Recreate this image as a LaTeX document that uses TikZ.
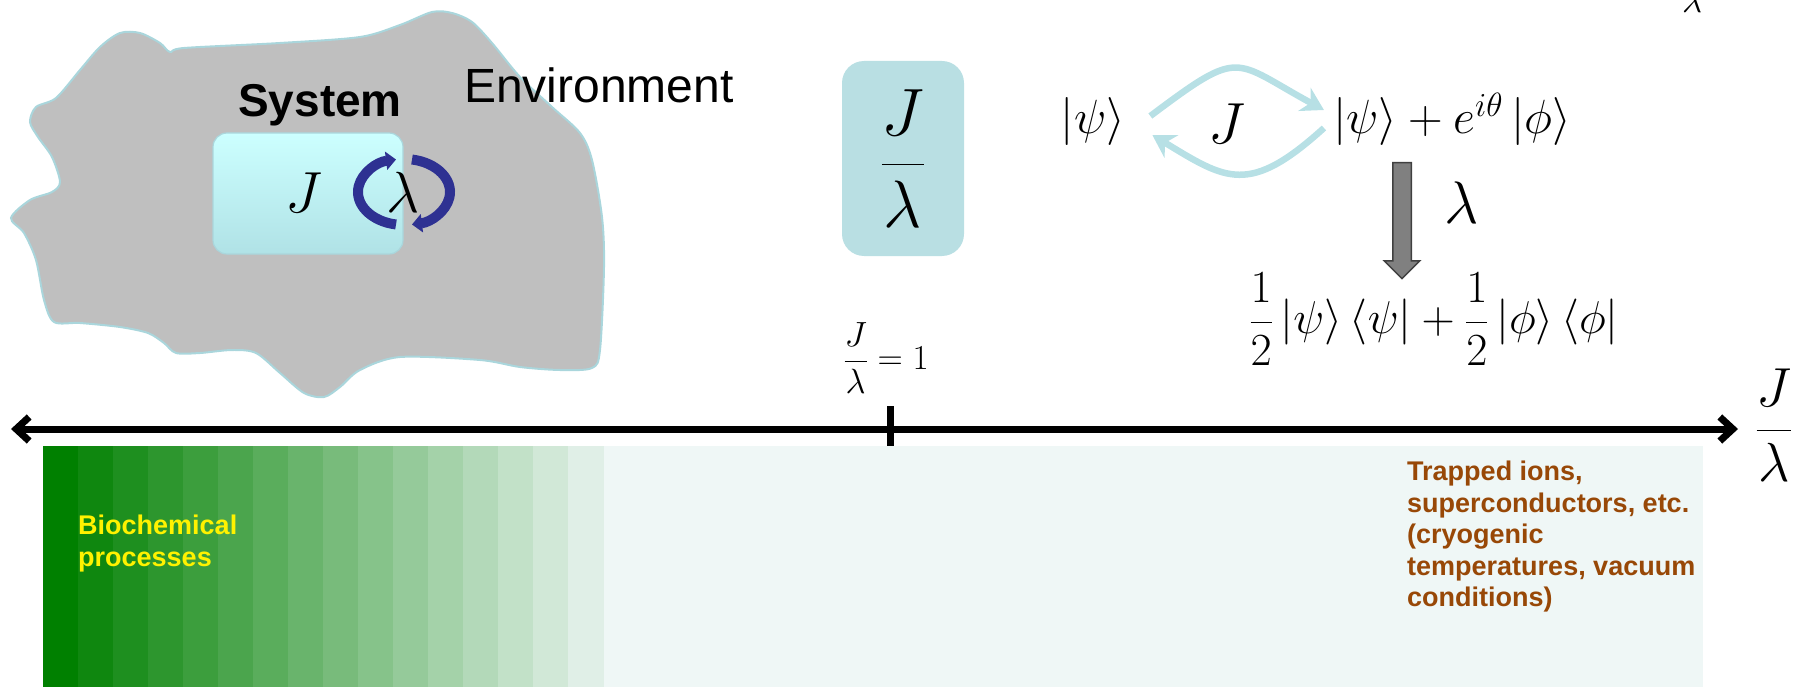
\RequirePackage{fix-cm}
\documentclass[tikz,border=0pt]{standalone}
\usepackage[no-math]{fontspec}
\setsansfont{Liberation Sans}
\usepackage{xcolor}
\usetikzlibrary{arrows.meta, shapes.arrows}

\definecolor{envgray}{RGB}{191,191,191}
\definecolor{envedge}{RGB}{170,214,220}
\definecolor{systop}{RGB}{204,255,255}
\definecolor{sysbot}{RGB}{176,226,230}
\definecolor{ratiofill}{RGB}{185,223,227}
\definecolor{coherent}{RGB}{183,224,229}
\definecolor{cyclenavy}{RGB}{46,49,146}
\definecolor{deepgreen}{RGB}{0,128,0}
\definecolor{palefill}{RGB}{239,247,246}
\definecolor{rustbrown}{RGB}{152,72,7}

\begin{document}
\begin{tikzpicture}[x=1pt, y=-1pt,
            envblob/.style={fill=envgray, draw=envedge, line width=2pt},
            sysbox/.style={rounded corners=14pt, top color=systop, bottom color=sysbot, draw=envedge, line width=1.2pt, minimum width=190pt, minimum height=121pt, inner sep=0pt},
            ratiobox/.style={rounded corners=22pt, fill=ratiofill, minimum width=122pt, minimum height=195pt, inner sep=0pt},
            mathlbl/.style={inner sep=0pt, anchor=base, font=\fontsize{#1}{#1}\selectfont},
            cyclearrow/.style={line width=10pt, draw=cyclenavy, -{Triangle[length=10pt, width=18pt]}},
            coharrow/.style={line width=6.5pt, draw=coherent, -{Stealth[length=22pt, width=26pt, inset=7pt]}},
            droparrow/.style={single arrow, draw=black!75, fill=black!50, line width=1.5pt, rotate=-90, minimum height=116pt, minimum width=34pt, single arrow head extend=8.5pt, inner xsep=0pt, inner ysep=8.5pt},
            axisline/.style={line width=7pt, {Straight Barb[length=13pt, width=24pt]}-{Straight Barb[length=13pt, width=24pt]}},
            tickmark/.style={line width=7pt},
            regime/.style={font=\fontsize{27}{31.5}\selectfont\sffamily\bfseries, align=left, inner sep=0pt, anchor=north west}
        ]
        \useasboundingbox (0,0) rectangle (1804,687);

        % --- System in its environment ---
        \draw[envblob] plot[smooth cycle, tension=0.5] coordinates {
            (11,218) (30,200) (52,192) (60,182) (52,157) (38,137) (30,122) (36,107)
            (56,98) (80,70) (100,47) (120,33) (140,33) (160,43) (170,52) (184,48)
            (280,43) (360,37) (400,25) (432,12) (452,13) (472,22) (492,43) (520,77)
            (552,107) (580,133) (592,160) (602,217) (604,267) (600,350) (592,368) (560,370)
            (520,367) (480,360) (400,357) (360,370) (340,387) (324,397) (304,393) (280,373)
            (256,353) (232,350) (200,353) (176,353) (164,343) (148,333) (120,327) (80,323)
            (54,322) (44,300) (36,260) (24,233)};
        \node[font=\fontsize{48}{50}\selectfont\sffamily, inner sep=0pt, anchor=base west] (envlbl) at (464,103) {Environment};
        \node[font=\fontsize{46}{48}\selectfont\sffamily\bfseries, inner sep=0pt, anchor=base] (syslbl) at (320,117) {System};
        \node[sysbox] (sys) at (308,193.5) {};
        \node[mathlbl=58] (sysJ) at (304,212) {$J$};
        \coordinate (cyc) at (404,192);
        \draw[cyclearrow] ([shift={(-8,32.5)}]cyc) arc[start angle=100, end angle=260, x radius=46, y radius=33];
        \draw[cyclearrow] ([shift={(8,-32.5)}]cyc) arc[start angle=280, end angle=440, x radius=46, y radius=33];
        \node[mathlbl=58] (syslam) at (403,213) {$\lambda$};

        % --- Ratio ---
        \node[ratiobox, font=\fontsize{67}{67}\selectfont] (ratio) at (903,158.5) {\raisebox{5pt}{$\displaystyle\frac{J}{\lambda}$}};
        \node[mathlbl=35] (crit) at (886,369.75) {$\displaystyle\frac{J}{\lambda}=1$};
        \node[mathlbl=35] (lamtop) at (1692,13) {$\lambda$};

        % --- Coherence and decoherence ---
        \node[mathlbl=48] (psi) at (1093,134) {$|\psi\rangle$};
        \node[mathlbl=48] (sup) at (1452,134) {$|\psi\rangle + e^{i\theta}\,|\phi\rangle$};
        \node[mathlbl=58] (cohJ) at (1227,144) {$J$};
        \draw[coharrow] ([shift={(25,-18)}]psi.base east) .. controls +(92,-69) and +(-92,-50) .. ([shift={(-9,-24)}]sup.base west);
        \draw[coharrow] ([shift={(-9,-6)}]sup.base west) .. controls +(-75,68) and +(74,45) .. ([shift={(27,1)}]psi.base east);
        \node[droparrow] (drop) at (1402,216) {};
        \node[mathlbl=60] (declam) at (1462,224) {$\lambda$};
        \node[mathlbl=46] (mix) at (1434,333.5) {$\displaystyle\frac{1}{2}\,|\psi\rangle\,\langle\psi| + \frac{1}{2}\,|\phi\rangle\,\langle\phi|$};

        % --- Regimes along J/lambda ---
        \fill[palefill] (43,446) rectangle (1703,687);
        \foreach \i in {0,...,15}{
            \pgfmathsetmacro\pct{100-6.25*\i}
            \fill[deepgreen!\pct!palefill] (43+35*\i,446) rectangle (79+35*\i,687);
        }
        \coordinate (axL) at (11,429);
        \coordinate (axR) at (1738,429);
        \coordinate (tick) at (890,429);
        \draw[axisline] (axL) -- (axR);
        \draw[tickmark] ([yshift=23pt]tick) -- ([yshift=-17pt]tick);
        \node[mathlbl=55] (axislab) at (1774,443.75) {$\displaystyle\frac{J}{\lambda}$};
        \node[regime, text=yellow] (bio) at (78,515) {Biochemical\\processes};
        \node[regime, text=rustbrown] (trap) at (1407,461) {Trapped ions,\\superconductors, etc.\\(cryogenic\\temperatures, vacuum\\conditions)};

    \end{tikzpicture}
\end{document}
